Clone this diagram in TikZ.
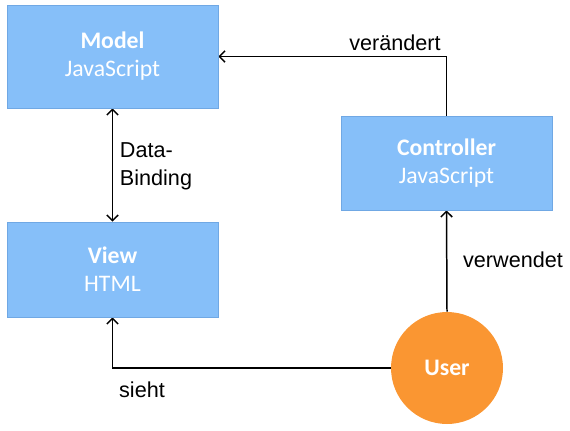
\documentclass[tikz,border=0pt]{standalone}
\usepackage{fontspec}
\setmainfont{Liberation Sans}
\newfontfamily\boxfont{Carlito}
\usetikzlibrary{backgrounds,arrows.meta}
\pgfdeclarelayer{edgelayer}
\pgfdeclarelayer{nodelayer}
\pgfsetlayers{edgelayer,nodelayer,main}
\definecolor{boxblue}{RGB}{134,191,249}
\definecolor{boxline}{RGB}{112,168,228}
\definecolor{userorange}{RGB}{250,150,50}
\tikzset{font=\fontsize{12.3}{16}\selectfont}
\tikzset{>={Straight Barb[length=3.2pt,width=6.5pt]}}
\tikzstyle{none}=[inner sep=0pt]
\tikzstyle{box}=[rectangle,fill=boxblue,draw=boxline,minimum width=4.22cm,text=white,align=center,font=\boxfont\fontsize{13.5}{16}\selectfont]
\tikzstyle{usr}=[circle,fill=userorange,minimum size=2.24cm,inner sep=0pt,text=white,font=\boxfont\bfseries\fontsize{13.5}{16}\selectfont]
\tikzstyle{edge}=[line width=0.85pt]

\begin{document}
\begin{tikzpicture}[x=0.02cm,y=-0.02cm]
	\useasboundingbox (0,0) rectangle (570,430);
	\begin{pgfonlayer}{nodelayer}
		\node [style=box,minimum height=2.06cm] (model) at (112.5, 56.5) {\textbf{Model}\\JavaScript};
		\node [style=box,minimum height=1.9cm] (view) at (112.5, 269.5) {\textbf{View}\\HTML};
		\node [style=box,minimum height=1.88cm] (ctrl) at (446.5, 163) {\textbf{Controller}\\JavaScript};
		\node [style=usr] (user) at (447, 368) {User};
		\node [style=none] (chg) at (395, 43) {verändert};
		\node [style=none,align=left] (bind) at (156, 166) {Data-\\Binding};
		\node [style=none] (use) at (513, 260) {verwendet};
		\node [style=none] (see) at (142, 390) {sieht};
	\end{pgfonlayer}
	\begin{pgfonlayer}{edgelayer}
		\draw[style=edge,<->] (model.south) to (view.north);
		\draw[style=edge,->] (ctrl.north) |- (model.east);
		\draw[style=edge,->] (user.north) to (ctrl.south);
		\draw[style=edge,->] (user.west) -| (view.south);
	\end{pgfonlayer}
\end{tikzpicture}
\end{document}
